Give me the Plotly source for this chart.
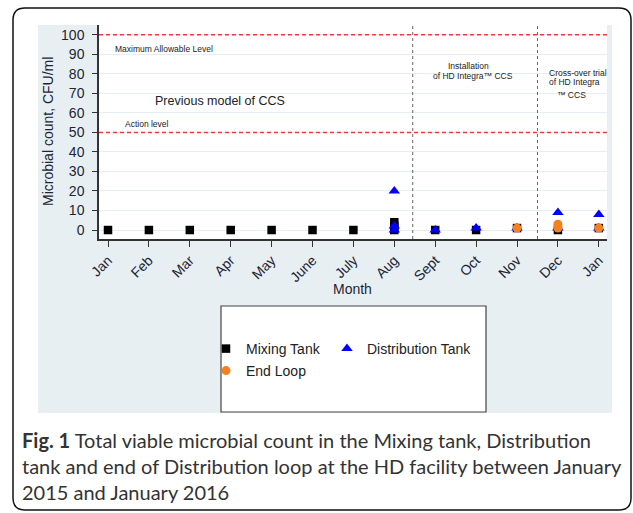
import plotly.graph_objects as go

W, H = 633, 513

# Month axis
month_labels = ["Jan", "Feb", "Mar", "Apr", "May", "June", "July", "Aug",
                "Sept", "Oct", "Nov", "Dec", "Jan"]
month_pos = list(range(len(month_labels)))

# Samples: month index and CFU/ml
mixing_month = [0, 1, 2, 3, 4, 5, 6, 7, 7, 7, 8, 9, 10, 11, 12]
mixing_value = [0, 0, 0, 0, 0, 0, 0, 0, 2, 4, 0, 0, 1, 0, 1]

dist_month = [7, 7, 7, 8, 9, 10, 11, 11, 12, 12]
dist_value = [20, 2, 0, 0, 1, 1, 9, 1, 8, 1]

end_month = [10, 11, 11, 12]
end_value = [1, 3, 1, 1]

# Reference levels and period boundaries
action_level = 50
max_level = 100
period_bounds = [7.45, 10.5]

y_ticks = list(range(0, 101, 10))


def px(x):
    return x / W


def py(y):
    return 1 - y / H


AX = "#1c2535"
TXT = "#222222"

fig = go.Figure()

fig.add_trace(go.Scatter(
    x=mixing_month, y=mixing_value, mode="markers", name="Mixing Tank",
    marker=dict(symbol="square", size=8.5, color="black"),
    legend="legend"))
fig.add_trace(go.Scatter(
    x=dist_month, y=dist_value, mode="markers", name="Distribution Tank",
    marker=dict(symbol="triangle-up", size=10, color="#0000ff"),
    legend="legend2"))
fig.add_trace(go.Scatter(
    x=end_month, y=end_value, mode="markers", name="End Loop",
    marker=dict(symbol="circle", size=9, color="#f5801f"),
    legend="legend3"))

shapes = []
# panel background and white plotting area
shapes.append(dict(type="rect", xref="paper", yref="paper",
                   x0=px(38), x1=px(612), y0=py(413), y1=py(25),
                   fillcolor="#e8eff3", line=dict(width=0), layer="below"))
shapes.append(dict(type="rect", xref="paper", yref="paper",
                   x0=px(99), x1=px(607), y0=py(239), y1=py(25),
                   fillcolor="white", line=dict(width=0), layer="below"))
# legend frame
shapes.append(dict(type="rect", xref="paper", yref="paper",
                   x0=px(221), x1=px(486), y0=py(412), y1=py(306),
                   fillcolor="white", line=dict(color="#444444", width=1.2),
                   layer="below"))
# guideline levels
for lvl in (action_level, max_level):
    shapes.append(dict(type="line", xref="x domain", yref="y",
                       x0=0, x1=1, y0=lvl, y1=lvl,
                       line=dict(color="#ee3b33", width=1.5, dash="4px,3px")))
# period separators
for b in period_bounds:
    shapes.append(dict(type="line", xref="x", yref="y domain",
                       x0=b, x1=b, y0=0, y1=1,
                       line=dict(color="#666666", width=1, dash="3px,3px")))
# card outline with rounded corners
l, t, r, btm, rad = 13, 8, 631, 510, 12
path = (f"M {px(l + rad)},{py(t)} L {px(r - rad)},{py(t)} "
        f"Q {px(r)},{py(t)} {px(r)},{py(t + rad)} "
        f"L {px(r)},{py(btm - rad)} Q {px(r)},{py(btm)} {px(r - rad)},{py(btm)} "
        f"L {px(l + rad)},{py(btm)} Q {px(l)},{py(btm)} {px(l)},{py(btm - rad)} "
        f"L {px(l)},{py(t + rad)} Q {px(l)},{py(t)} {px(l + rad)},{py(t)} Z")
shapes.append(dict(type="path", xref="paper", yref="paper", path=path,
                   line=dict(color="#111111", width=1.5), layer="above"))

anns = []


def note(text, x, y, size, xanchor="left", **kw):
    anns.append(dict(text=text, x=px(x), y=py(y), xref="paper", yref="paper",
                     xanchor=xanchor, yanchor="middle", showarrow=False,
                     font=dict(family="Liberation Sans, Arial", size=size,
                               color=kw.pop("color", TXT)), **kw))


note("Maximum Allowable Level", 113, 49, 8.5)
note("Previous model of CCS", 220, 101, 12.5, xanchor="center")
note("Action level", 123, 124, 8.5)
note("Installation", 468, 66, 8.5, xanchor="center")
note("of HD Integra™ CCS", 473, 76, 8.5, xanchor="center")
note("Cross-over trial", 547, 73, 8.5)
note("of HD Integra", 547, 82, 8.5)
note("™ CCS", 555, 95, 8.5)
note("Microbial count, CFU/ml", 48, 132, 14, xanchor="center",
     textangle=-90, color=AX)
note("Month", 353, 289, 14, xanchor="center", color=AX)

cap_font = "Lato, Open Sans, sans-serif"
cap_lines = [
    "<b>Fig. 1</b> Total viable microbial count in the Mixing tank, Distribution",
    "tank and end of Distribution loop at the HD facility between January",
    "2015 and January 2016",
]
for i, line in enumerate(cap_lines):
    anns.append(dict(text=line, x=px(20), y=py(440 + 26 * i), xref="paper",
                     yref="paper", xanchor="left", yanchor="middle",
                     showarrow=False,
                     font=dict(family=cap_font, size=20, color="#333333")))

leg_common = dict(orientation="h", xanchor="left", yanchor="middle",
                  bgcolor="rgba(0,0,0,0)", borderwidth=0,
                  font=dict(size=14, color=TXT),
                  itemclick=False, itemdoubleclick=False)

fig.update_layout(
    width=W, height=H,
    margin=dict(l=0, r=0, t=0, b=0, autoexpand=False),
    paper_bgcolor="white", plot_bgcolor="rgba(0,0,0,0)",
    font=dict(family="Liberation Sans, Arial", color=AX),
    shapes=shapes, annotations=anns,
    xaxis=dict(domain=[px(99), px(607)], range=[-0.22, 12.2],
               automargin=False,
               tickmode="array", tickvals=month_pos, ticktext=month_labels,
               tickangle=-45, tickfont=dict(size=14, color=AX),
               showgrid=False, zeroline=False,
               showline=True, linecolor="#333333", linewidth=1.5,
               ticks="outside", ticklen=6, tickcolor="#333333"),
    yaxis=dict(domain=[py(239), py(25)], range=[-4.6, 105],
               automargin=False,
               tickmode="array", tickvals=y_ticks,
               tickfont=dict(size=14, color=AX), ticklabelstandoff=5,
               showgrid=True, gridcolor="#e6eef2", gridwidth=1,
               zeroline=False,
               showline=True, linecolor="#333333", linewidth=1.5,
               ticks="outside", ticklen=5, tickcolor="#333333"),
    legend=dict(x=px(206), y=py(349), **leg_common),
    legend2=dict(x=px(327), y=py(349), **leg_common),
    legend3=dict(x=px(206), y=py(371), **leg_common),
    showlegend=True,
)

fig.write_html("out.html")
